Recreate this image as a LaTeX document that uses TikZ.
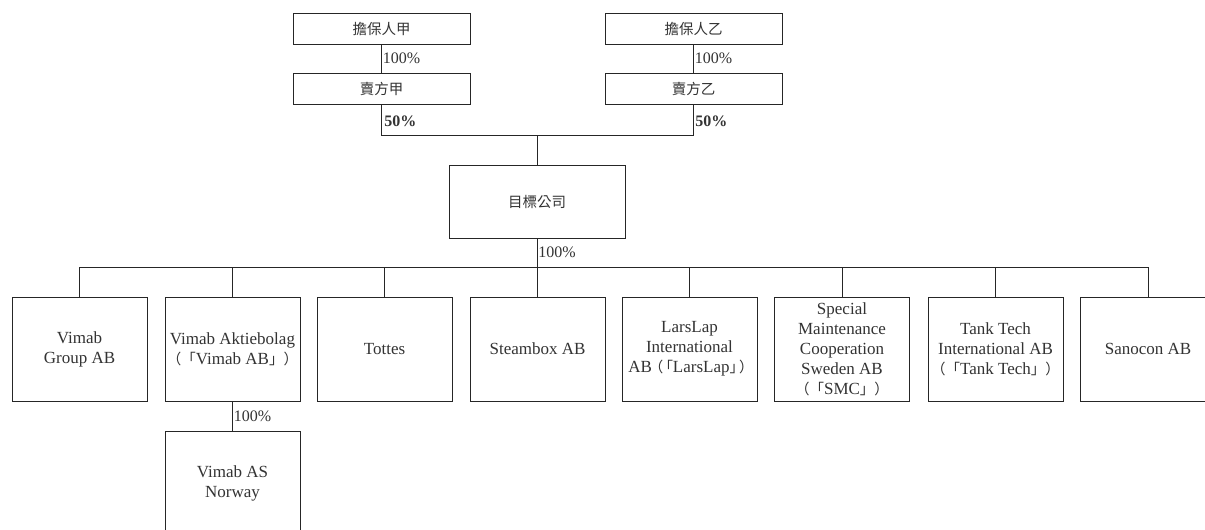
\documentclass[tikz,border=0pt]{standalone}
\usepackage{fontspec}
\setmainfont{Liberation Serif}
\newfontfamily\cjkf{Noto Sans CJK TC}
\newcommand\zh[1]{{\cjkf\fontsize{14.5}{20}\selectfont #1}}
\begin{document}
\begin{tikzpicture}[x=1pt,y=-1pt,line width=0.9pt,
  every node/.style={text=black!80},
  box/.style={draw=black!85, minimum width=135pt, minimum height=104pt, align=center, inner sep=0pt, font=\fontsize{17}{20}\selectfont},
  topbox/.style={draw=black!85, minimum width=177pt, minimum height=31pt, inner sep=0pt},
  pct/.style={anchor=west, font=\fontsize{16}{18}\selectfont, inner sep=1pt},
  conn/.style={draw=black!85}]
\fill[white] (0,0) rectangle (1205,530);
\clip (0,0) rectangle (1205,530);
\useasboundingbox (0,0) rectangle (1205,530);
% top
\node[topbox] (g1) at (381.5,28.5) {\zh{擔保人甲}};
\node[topbox] (s1) at (381.5,89) {\zh{賣方甲}};
\node[topbox] (g2) at (693.5,28.5) {\zh{擔保人乙}};
\node[topbox] (s2) at (693.5,89) {\zh{賣方乙}};
\node[draw=black!85, minimum width=176pt, minimum height=73pt, inner sep=0pt] (t) at (537,201.5) {\zh{目標公司}};
% bottom row
\node[box] (b1) at (79.5,349) {Vimab\\Group AB};
\node[box] (b2) at (232.5,349) {Vimab Aktiebolag\\\zh{（「}Vimab AB\zh{」）}};
\node[box] (b3) at (384.5,349) {Tottes};
\node[box] (b4) at (537.5,349) {Steambox AB};
\node[box] (b5) at (689.5,349) {LarsLap\\International\\AB\zh{\kern-3pt（\kern-5pt「}LarsLap\zh{」\kern-5pt）\kern-3pt}};
\node[box] (b6) at (842,349) {Special\\Maintenance\\Cooperation\\Sweden AB\\\zh{（「}SMC\zh{」）}};
\node[box] (b7) at (995.5,349) {Tank Tech\\International AB\\\zh{（「}Tank Tech\zh{」）}};
\node[box] (b8) at (1148,349) {Sanocon AB};
\node[box] (n) at (232.5,483) {Vimab AS\\Norway};
% connectors
\draw[conn] (g1) -- node[pct, pos=0.5] {100\%} (s1);
\draw[conn] (g2) -- node[pct, pos=0.5] {100\%} (s2);
\coordinate (j) at (537,135);
\draw[conn] (s1.south) |- (j);
\draw[conn] (s2.south) |- (j);
\draw[conn] (j) -- (t.north);
\node[pct, font=\fontsize{16}{18}\selectfont\bfseries] at (383,121) {50\%};
\node[pct, font=\fontsize{16}{18}\selectfont\bfseries] at (694,121) {50\%};
\coordinate (bus) at (537,267);
\draw[conn] (t.south) -- node[pct, pos=0.5] {100\%} (bus);
\draw[conn] (b1.north |- bus) -- (b8.north |- bus);
\foreach \b in {b1,b2,b3,b4,b5,b6,b7,b8} {\draw[conn] (\b.north) -- (\b.north |- bus);}
\draw[conn] (b2.south) -- node[pct, pos=0.5] {100\%} (n.north);
\end{tikzpicture}
\end{document}
